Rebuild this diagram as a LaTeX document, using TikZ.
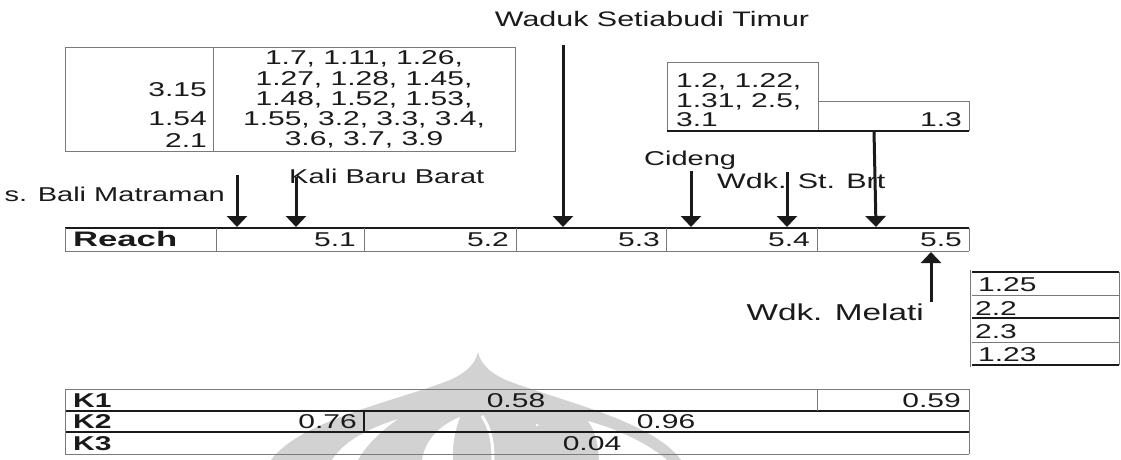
\documentclass[tikz,border=0pt]{standalone}
\usepackage{fontspec}
\setmainfont[FakeStretch=1.5]{Liberation Sans}
\newfontfamily\lblfont[FakeStretch=1.45]{Liberation Sans}
\newfontfamily\headfont[FakeStretch=1.65]{Liberation Sans}
\usetikzlibrary{arrows.meta}
\definecolor{inkc}{HTML}{1A1A1A}
\definecolor{rulec}{HTML}{7A7A7A}
\definecolor{wmark}{HTML}{D2D2D2}
\tikzset{
  txt/.style={inner sep=0pt, text=inkc, font=\fontsize{20}{23}\selectfont},
  btxt/.style={txt, font=\fontsize{20}{23}\selectfont\bfseries},
  headtxt/.style={txt, font=\headfont\fontsize{21}{24}\selectfont\bfseries},
  lbltxt/.style={txt, font=\lblfont\fontsize{20}{23}\selectfont},
  bigtxt/.style={txt, font=\lblfont\fontsize{21}{25}\selectfont},
  hugetxt/.style={txt, font=\lblfont\fontsize{23}{27}\selectfont},
  rl/.style={draw=rulec, line width=0.9pt},
  dl/.style={draw=inkc, line width=1.1pt},
  flow/.style={draw=inkc, line width=3pt, -{Triangle[width=20pt,length=11pt]}},
}
\begin{document}
\begin{tikzpicture}[x=1pt,y=-1pt]
\useasboundingbox (0,0) rectangle (1121,460);

% faint emblem in the background
\fill[wmark] (271,460) .. controls (300,420) and (400,400) .. (450,380)
  .. controls (468,372) and (476,362) .. (478,352)
  .. controls (480,362) and (488,372) .. (506,380)
  .. controls (556,400) and (652,420) .. (681,460) -- cycle;
\fill[white] (332,460) .. controls (345,440) and (370,428) .. (398,419)
  .. controls (382,430) and (366,445) .. (358,460) -- cycle;
\fill[white] (422,460) .. controls (425,440) and (440,425) .. (460,417)
  .. controls (455,430) and (452,445) .. (453,460) -- cycle;
\fill[white] (599,460) .. controls (598,445) and (596,432) .. (588,421)
  .. controls (620,430) and (650,445) .. (667,460) -- cycle;
\draw[white, line width=3pt] (493,460) .. controls (493,440) and (490,428) .. (482,416);
\fill[white] (537,425) circle (1.5);

% upper left table
\draw[rl] (65,47) rectangle (515,151);
\draw[rl] (213,47) -- (213,151);
\node[txt, anchor=base] (la1) at (364,65) {1.7, 1.11, 1.26,};
\node[txt, anchor=base] (la2) at (364,85) {1.27, 1.28, 1.45,};
\node[txt, anchor=base] (la3) at (364,105) {1.48, 1.52, 1.53,};
\node[txt, anchor=base] (la4) at (364,125) {1.55, 3.2, 3.3, 3.4,};
\node[txt, anchor=base] (la5) at (364,145) {3.6, 3.7, 3.9};
\node[txt, anchor=base east] (lb1) at (207,96) {3.15};
\node[txt, anchor=base east] (lb2) at (207,125) {1.54};
\node[txt, anchor=base east] (lb3) at (207,147) {2.1};

% upper right table
\draw[rl] (667,62) -- (818,62);
\draw[rl] (667,62) -- (667,131);
\draw[rl] (818,62) -- (818,131);
\draw[rl] (818,101) -- (969,101);
\draw[rl] (969,101) -- (969,131);
\draw[dl] (667,131) -- (969,131);
\node[txt, anchor=base west] (ra1) at (676,87) {1.2, 1.22,};
\node[txt, anchor=base west] (ra2) at (676,107) {1.31, 2.5,};
\node[txt, anchor=base west] (ra3) at (676,126) {3.1};
\node[txt, anchor=base east] (rb1) at (962,126) {1.3};
\coordinate (rbFoot) at (874,131);

% reach row
\draw[dl] (65,228) -- (969,228);
\draw[rl] (65,251) -- (969,251);
\foreach \xx in {65,216,364,516,666,817,969}
  \draw[rl] (\xx,228) -- (\xx,251);
\node[headtxt, anchor=base west] (reach) at (73,246) {Reach};
\node[txt, anchor=base east] (r51) at (356,246) {5.1};
\node[txt, anchor=base east] (r52) at (509,246) {5.2};
\node[txt, anchor=base east] (r53) at (660,246) {5.3};
\node[txt, anchor=base east] (r54) at (810,246) {5.4};
\node[txt, anchor=base east] (r55) at (962,246) {5.5};

% inflow labels
\node[bigtxt, anchor=base] (waduk) at (652,27) {Waduk Setiabudi Timur};
\node[lbltxt, anchor=base east] (bali) at (225,201) {s. Bali Matraman};
\node[lbltxt, anchor=base west] (kali) at (289,183) {Kali Baru Barat};
\node[lbltxt, anchor=base west] (cideng) at (644,165) {Cideng};
\node[bigtxt, anchor=base west] (stbrt) at (717,188) {Wdk. St. Brt};
\node[hugetxt, anchor=base east] (melati) at (924,320) {Wdk. Melati};

% arrow end points
\coordinate (baliTop) at (237,175);  \coordinate (baliEnd) at (237,227);
\coordinate (kaliTop) at (296,177);  \coordinate (kaliEnd) at (296,227);
\coordinate (wadukTop) at (563,45);  \coordinate (wadukEnd) at (563,227);
\coordinate (cidTop) at (691,171);   \coordinate (cidEnd) at (691,227);
\coordinate (brtTop) at (787,172);   \coordinate (brtEnd) at (787,227);
\coordinate (rbEnd) at (876,227);
\coordinate (melBot) at (931,302);   \coordinate (melEnd) at (931,252);

\draw[flow] (baliTop) -- (baliEnd);
\draw[flow] (kaliTop) -- (kaliEnd);
\draw[flow] (wadukTop) -- (wadukEnd);
\draw[flow] (cidTop) -- (cidEnd);
\draw[flow] (brtTop) -- (brtEnd);
\draw[flow] (rbFoot) -- (rbEnd);
\draw[flow] (melBot) -- (melEnd);

% outflow table
\draw[rl] (970,270) -- (970,367);
\draw[dl] (972,272) -- (1119,272);
\draw[rl] (972,295) -- (1119,295);
\draw[dl] (972,318) -- (1119,318);
\draw[rl] (972,342) -- (1119,342);
\draw[dl] (972,365) -- (1119,365);
\draw[rl] (1119,272) -- (1119,365);
\node[txt, anchor=base west] (m1) at (978,291) {1.25};
\node[txt, anchor=base west] (m2) at (975,315) {2.2};
\node[txt, anchor=base west] (m3) at (975,338) {2.3};
\node[txt, anchor=base west] (m4) at (978,361) {1.23};

% coefficient table
\draw[rl] (65,389) -- (969,389);
\draw[dl] (65,411) -- (969,411);
\draw[dl] (65,432) -- (969,432);
\draw[rl] (65,454) -- (969,454);
\draw[rl] (65,389) -- (65,454);
\draw[rl] (969,389) -- (969,454);
\draw[rl] (817,389) -- (817,411);
\draw[dl] (364,411) -- (364,432);
\node[btxt, anchor=base west] (k1) at (73,407) {K1};
\node[btxt, anchor=base west] (k2) at (73,428) {K2};
\node[btxt, anchor=base west] (k3) at (73,450) {K3};
\node[txt, anchor=base] (k1a) at (516,407) {0.58};
\node[txt, anchor=base east] (k1b) at (961,407) {0.59};
\node[txt, anchor=base east] (k2a) at (357,428) {0.76};
\node[txt, anchor=base] (k2b) at (666,428) {0.96};
\node[txt, anchor=base] (k3a) at (592,450) {0.04};
\end{tikzpicture}
\end{document}
